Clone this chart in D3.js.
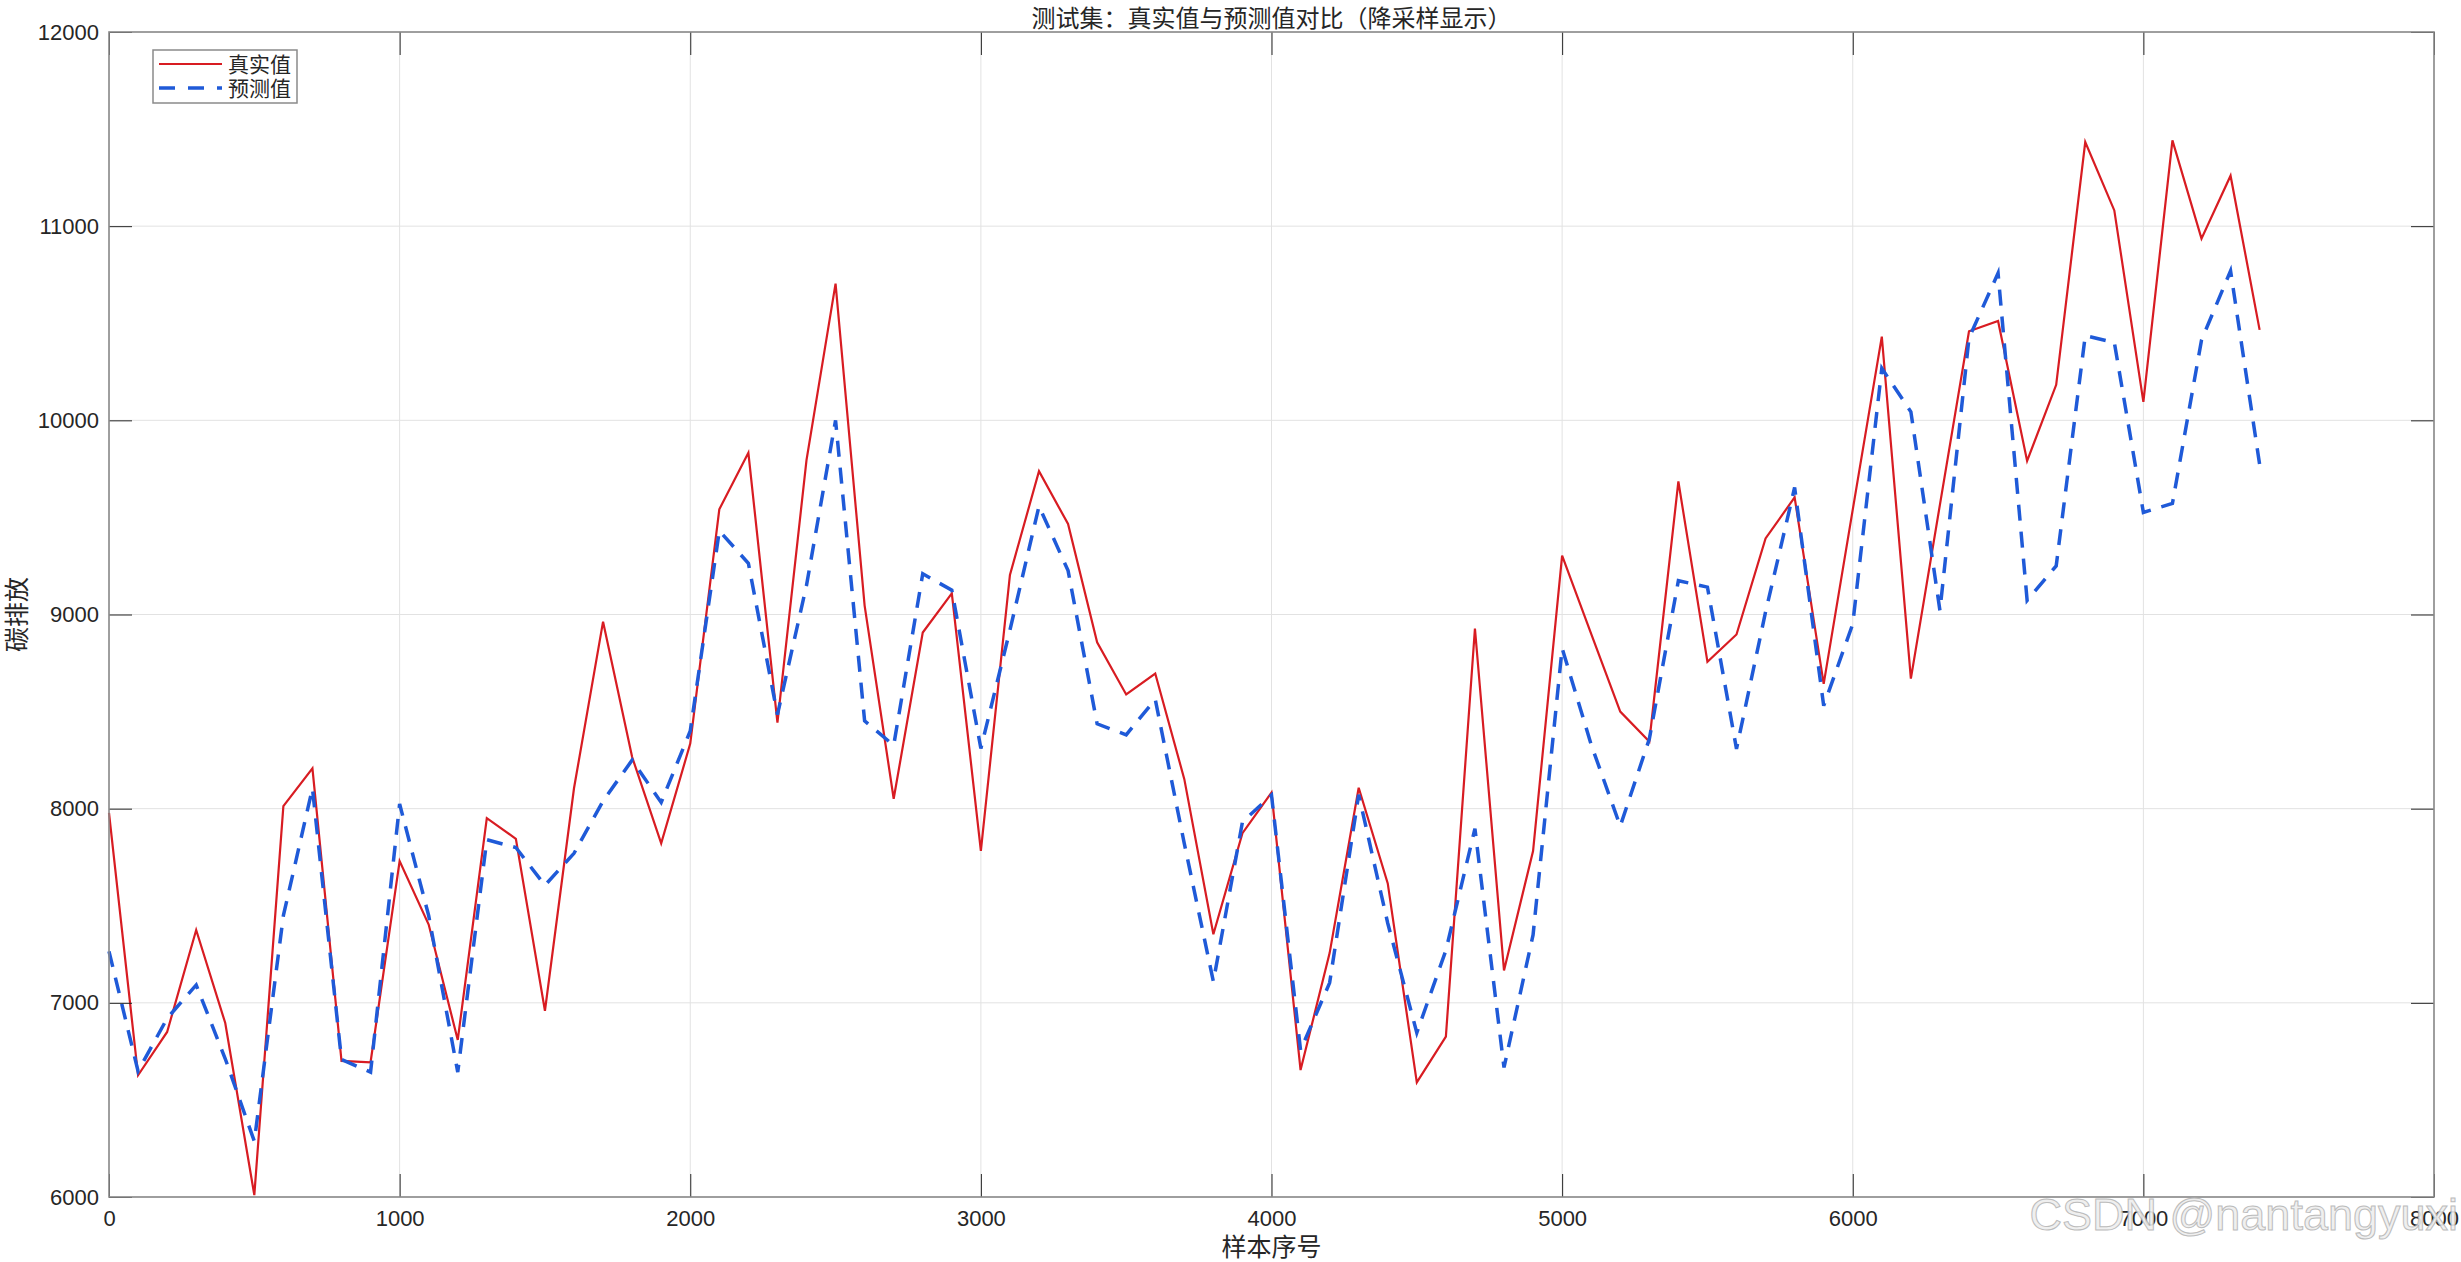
<!DOCTYPE html>
<html>
<head>
<meta charset="utf-8">
<script src="https://cdn.jsdelivr.net/npm/d3@7"></script>
<style>
body { margin:0; padding:0; background:white; }
.tick text { font-family: "Liberation Sans", Arial, sans-serif; font-size:22px; fill:#262626; }
.cjk { font-family: "Noto Sans CJK SC", sans-serif; fill:#262626; }
</style>
</head>
<body>
<div id="chart"></div>
<script>
// sample index (downsampled every 100)
var sampleIdx = [0,100,200,300,400,500,600,700,800,900,
  1000,1100,1200,1300,1400,1500,1600,1700,1800,1900,
  2000,2100,2200,2300,2400,2500,2600,2700,2800,2900,
  3000,3100,3200,3300,3400,3500,3600,3700,3800,3900,
  4000,4100,4200,4300,4400,4500,4600,4700,4800,4900,
  5000,5100,5200,5300,5400,5500,5600,5700,5800,5900,
  6000,6100,6200,6300,6400,6500,6600,6700,6800,6900,
  7000,7100,7200,7300,7400];

var trueVals = [7978,6627,6850,7375,6896,6010,8013,8208,6701,6694,
  7730,7403,6809,7951,7845,6959,8105,8963,8266,7821,
  8335,9542,9833,8443,9795,10704,9046,8051,8907,9109,
  7783,9204,9738,9466,8857,8588,8696,8152,7353,7874,
  8083,6654,7256,8108,7615,6590,6826,8928,7167,7782,
  9303,8900,8500,8346,9685,8756,8897,9392,9603,8643,
  9540,10431,8670,9566,10459,10512,9791,10183,11433,11081,
  10095,11442,10936,11260,10466];

var predVals = [7265,6648,6920,7092,6712,6287,7449,8105,6708,6643,
  8024,7449,6643,7840,7800,7605,7770,8040,8250,8032,
  8400,9431,9264,8484,9150,10000,8452,8326,9210,9125,
  8310,8920,9558,9226,8437,8380,8563,7820,7110,7931,
  8070,6756,7103,8072,7410,6846,7270,7897,6667,7350,
  8826,8330,7910,8359,9174,9141,8308,9013,9654,8530,
  8951,10268,10044,9020,10424,10758,9073,9250,10436,10401,
  9526,9572,10413,10770,9773];

var xTicks = [0,1000,2000,3000,4000,5000,6000,7000,8000];
var yTicks = [6000,7000,8000,9000,10000,11000,12000];
var seriesNames = ["真实值","预测值"];

var W = 2461, H = 1262;
var plotL = 109, plotR = 2434, plotT = 32, plotB = 1197;

var svg = d3.select("#chart").append("svg")
  .attr("width", W)
  .attr("height", H)
  .style("background","white");

var x = d3.scaleLinear().domain([0,8000]).range([plotL,plotR]);
var y = d3.scaleLinear().domain([6000,12000]).range([plotB,plotT]);

// grid
svg.append("g").selectAll("line.gx")
  .data(xTicks)
  .enter().append("line")
  .attr("x1", function(d){ return x(d); })
  .attr("x2", function(d){ return x(d); })
  .attr("y1", plotT).attr("y2", plotB)
  .attr("stroke","#e2e2e2").attr("stroke-width",1);

svg.append("g").selectAll("line.gy")
  .data(yTicks)
  .enter().append("line")
  .attr("x1", plotL).attr("x2", plotR)
  .attr("y1", function(d){ return y(d); })
  .attr("y2", function(d){ return y(d); })
  .attr("stroke","#e2e2e2").attr("stroke-width",1);

// lines
var line = d3.line()
  .x(function(d,i){ return x(sampleIdx[i]); })
  .y(function(d){ return y(d); });

svg.append("path")
  .attr("d", line(trueVals))
  .attr("fill","none")
  .attr("stroke","#d81c22")
  .attr("stroke-width",2.2)
  .attr("stroke-linejoin","miter");

svg.append("path")
  .attr("d", line(predVals))
  .attr("fill","none")
  .attr("stroke","#1f5ad8")
  .attr("stroke-width",3.5)
  .attr("stroke-dasharray","16,11");

// axes, ticks inside
var fmt = d3.format("d");
svg.append("g")
  .attr("transform","translate(0,"+plotB+")")
  .call(d3.axisBottom(x).tickValues(xTicks).tickFormat(fmt).tickSizeInner(-23).tickSizeOuter(0).tickPadding(13));
svg.append("g")
  .attr("transform","translate("+plotL+",0)")
  .call(d3.axisLeft(y).tickValues(yTicks).tickFormat(fmt).tickSizeInner(-23).tickSizeOuter(0).tickPadding(10));
svg.append("g")
  .attr("transform","translate(0,"+plotT+")")
  .call(d3.axisTop(x).tickValues(xTicks).tickFormat("").tickSizeInner(-23).tickSizeOuter(0));
svg.append("g")
  .attr("transform","translate("+plotR+",0)")
  .call(d3.axisRight(y).tickValues(yTicks).tickFormat("").tickSizeInner(-23).tickSizeOuter(0));

svg.selectAll(".domain").remove();
svg.selectAll(".tick line").attr("stroke","#262626").attr("stroke-width",1);

// box
svg.append("rect")
  .attr("x", plotL).attr("y", plotT)
  .attr("width", plotR-plotL).attr("height", plotB-plotT)
  .attr("fill","none")
  .attr("stroke","#8a8a8a")
  .attr("stroke-width",1.6);

// title and labels
svg.append("text")
  .attr("class","cjk")
  .attr("x", (plotL+plotR)/2).attr("y", 27)
  .attr("text-anchor","middle")
  .attr("font-size","24px")
  .text("测试集：真实值与预测值对比（降采样显示）");

svg.append("text")
  .attr("class","cjk")
  .attr("x", (plotL+plotR)/2).attr("y", 1256)
  .attr("text-anchor","middle")
  .attr("font-size","25px")
  .text("样本序号");

svg.append("text")
  .attr("class","cjk")
  .attr("transform","translate(26,"+((plotT+plotB)/2)+") rotate(-90)")
  .attr("text-anchor","middle")
  .attr("font-size","25px")
  .text("碳排放");

// legend
var lg = svg.append("g");
lg.append("rect")
  .attr("x",153).attr("y",50)
  .attr("width",144).attr("height",53)
  .attr("fill","white")
  .attr("stroke","#8a8a8a")
  .attr("stroke-width",1.5);
lg.append("line")
  .attr("x1",159).attr("x2",222).attr("y1",64).attr("y2",64)
  .attr("stroke","#d81c22").attr("stroke-width",2.2);
lg.append("line")
  .attr("x1",159).attr("x2",222).attr("y1",88).attr("y2",88)
  .attr("stroke","#1f5ad8").attr("stroke-width",3.5)
  .attr("stroke-dasharray","16,13");
lg.selectAll("text")
  .data(seriesNames)
  .enter().append("text")
  .attr("class","cjk")
  .attr("x",228)
  .attr("y", function(d,i){ return 72+i*24; })
  .attr("font-size","21px")
  .text(function(d){ return d; });

// watermark
svg.append("text")
  .attr("x", 2458).attr("y", 1230)
  .attr("text-anchor","end")
  .attr("font-family","'Liberation Sans', Arial, sans-serif")
  .attr("font-size","45px")
  .attr("fill","#eeeeee")
  .attr("stroke","#b5b5b5")
  .attr("stroke-width",1)
  .attr("opacity",0.9)
  .text("CSDN @nantangyuxi");
</script>
</body>
</html>
